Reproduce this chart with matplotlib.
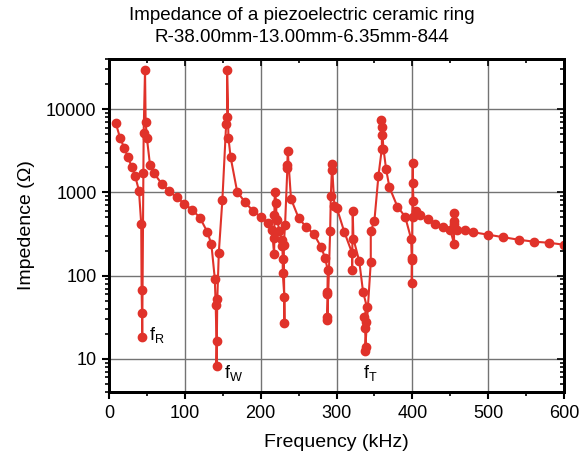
"""
Impedance spectrum of a piezoelectric ceramic ring (log scale)
"""

import matplotlib
matplotlib.use("Agg")
import matplotlib.pyplot as plt
from matplotlib.ticker import FixedLocator, LogLocator, NullFormatter

plt.rcParams["font.family"] = ["Liberation Sans", "DejaVu Sans"]
plt.rcParams["mathtext.fontset"] = "custom"
plt.rcParams["mathtext.rm"] = "Liberation Sans"

# Frequency (kHz) and impedance (ohm) in drawing order
freq = [9, 14.5, 20, 25, 30, 34.5, 39.5, 42.5, 43, 43.5, 43.8, 45.3, 45.7,
        47.5, 48.3, 50, 54, 59.5, 69.5, 79.5, 89.5, 99.5, 110, 120, 129.5,
        135, 139.5, 140.7, 141.8, 141.8, 142.8, 144.8, 149.5, 154.5, 156,
        155.7, 157.5, 160.3, 169, 179.5, 189.5, 200, 209.5, 215, 217.7,
        218.1, 218.1, 218.6, 220.8, 220.3, 222, 224.7, 227.8, 228.6, 229.1,
        229.1, 231.3, 231.3, 230.5, 232.2, 235.2, 235.2, 235.7, 240, 250,
        260, 270, 279.7, 285, 288.5, 288, 288, 288, 288, 291.6, 292.5,
        294.2, 294.5, 297.2, 300.4, 310.4, 320.6, 320.6, 321.4, 322.3, 330,
        335, 340, 336.7, 339, 337.7, 338.5, 337.7, 345.2, 345.2, 350, 355.3,
        359.8, 359.8, 360.6, 359.3, 361.9, 365.4, 369.8, 380.3, 390.5,
        398.4, 399.3, 399.3, 399.3, 400.6, 400.6, 401.5, 400.6, 405, 410.3,
        420, 430, 440, 450, 455, 455, 455, 455.5, 459.5, 470, 480.3, 500.4,
        520, 540, 560, 580.5, 600]
imped = [6750, 4540, 3420, 2650, 2010, 1570, 1050, 419, 68, 36, 18.2, 1700,
         5130, 29800, 7000, 4470, 2160, 1690, 1270, 1030, 870, 727, 616, 494,
         337, 239, 92, 44, 16.3, 8.3, 52, 189, 811, 6680, 8090, 29800, 4540,
         2670, 1020, 760, 604, 510, 425, 358, 180, 285, 537, 1020, 740, 480,
         466, 339, 265, 224, 160, 108, 54.7, 27.2, 235, 411, 1950, 2140,
         3150, 834, 494, 382, 318, 220, 163, 116, 64, 60, 32.2, 29.3, 339,
         896, 2180, 1850, 694, 650, 332, 187, 116, 593, 277, 149, 64, 42.3,
         32.2, 27.6, 23.7, 13.8, 12.3, 145, 339, 459, 1580, 3360, 4840,
         6090, 7330, 3360, 1900, 1150, 675, 512, 277, 164, 155, 80.5, 2245,
         1295, 781, 512, 604, 542, 481, 419, 389, 358, 241, 419, 459, 565,
         355, 350, 332, 310, 290, 270, 256, 248, 235]

x_ticks = [0, 100, 200, 300, 400, 500, 600]
x_minor = [50, 150, 250, 350, 450, 550]
y_ticks = [10, 100, 1000, 10000]
y_tick_labels = ["10", "100", "1000", "10000"]

# mode labels: (text, frequency, impedance at baseline)
mode_labels = [("f$_\\mathrm{R}$", 52.7, 16.9),
               ("f$_\\mathrm{W}$", 151.7, 5.94),
               ("f$_\\mathrm{T}$", 335, 5.94)]

red = "#e0322a"

fig = plt.figure(figsize=(5.84, 4.58), dpi=100)
ax = fig.add_axes([109 / 584, 66 / 458, 455 / 584, 333 / 458])

ax.plot(freq, imped, color=red, lw=1.5, marker="o", markersize=6,
        markeredgecolor=red, zorder=3)

ax.set_yscale("log")
ax.set_xlim(0, 600)
ax.set_ylim(4, 40000)

ax.set_xticks(x_ticks)
ax.xaxis.set_minor_locator(FixedLocator(x_minor))
ax.set_yticks(y_ticks)
ax.set_yticklabels(y_tick_labels)
ax.yaxis.set_minor_locator(LogLocator(base=10, subs=range(2, 10)))
ax.yaxis.set_minor_formatter(NullFormatter())

ax.grid(True, which="major", color="0.45", lw=1)
ax.tick_params(which="major", direction="out", length=5, width=1.5,
               labelsize=13, pad=4)
ax.tick_params(which="minor", direction="out", length=3, width=1.2)
for s in ax.spines.values():
    s.set_linewidth(2)

# mirrored inward ticks on top and right
axr = ax.twinx()
axr.set_yscale("log")
axr.set_ylim(ax.get_ylim())
axr.set_yticks(y_ticks)
axr.yaxis.set_minor_locator(LogLocator(base=10, subs=range(2, 10)))
axr.tick_params(which="both", direction="in", labelright=False, width=1.2)
axr.tick_params(which="major", length=5)
axr.tick_params(which="minor", length=3)
axt = ax.twiny()
axt.set_xlim(ax.get_xlim())
axt.set_xticks(x_ticks)
axt.xaxis.set_minor_locator(FixedLocator(x_minor))
axt.tick_params(which="both", direction="in", labeltop=False, width=1.2)
axt.tick_params(which="major", length=5)
axt.tick_params(which="minor", length=3)
for a in (axr, axt):
    for s in a.spines.values():
        s.set_linewidth(2)

for txt, fx, fy in mode_labels:
    ax.text(fx, fy, txt, fontsize=13, ha="left", va="baseline")

ax.set_xlabel("Frequency (kHz)", fontsize=14, labelpad=9)
ax.set_ylabel("Impedence (\u03a9)", fontsize=14, labelpad=8)

fig.text(302 / 584, 1 - 15 / 458, "Impedance of a piezoelectric ceramic ring",
         ha="center", va="center", fontsize=13.5)
fig.text(302 / 584, 1 - 37 / 458, "R-38.00mm-13.00mm-6.35mm-844",
         ha="center", va="center", fontsize=13.5)

fig.savefig("out.png", dpi=100)
